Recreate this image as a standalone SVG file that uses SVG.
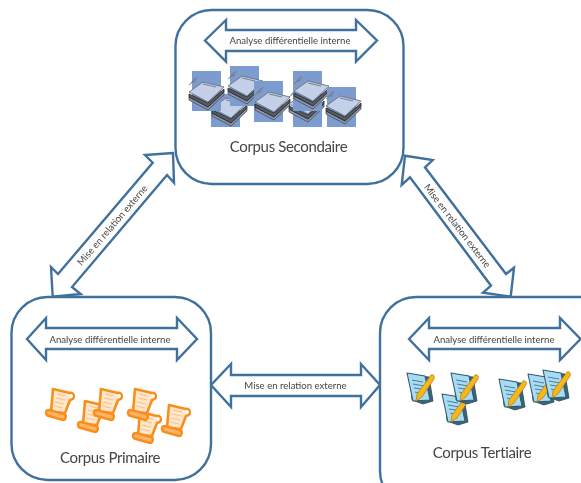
<svg xmlns="http://www.w3.org/2000/svg" xmlns:xlink="http://www.w3.org/1999/xlink" width="581" height="483" viewBox="0 0 581 483">
<style>
.box{fill:#fff;stroke:#41719c;stroke-width:2.4}
.arrow{fill:#fff;stroke:#41719c;stroke-width:2.4;stroke-linejoin:miter}
text{font-family:"Lato","Open Sans","Liberation Sans",sans-serif;fill:#444;text-anchor:middle}
.small{font-size:9.6px}
.big{font-size:15px;letter-spacing:-0.35px}
.sq{fill:#7b9bcf}
</style>
<defs>
<filter id="soft" x="-2%" y="-2%" width="104%" height="104%"><feGaussianBlur stdDeviation="0.45"/></filter>
<symbol id="stack" overflow="visible">
<g stroke-linejoin="round">
<path d="M-17-9-12-13M-15-11-11-16M-12-11-9-17" stroke="#777" stroke-width="0.9" fill="none"/>
<path d="M-17 3 2 13 18-2V1L2 16-17 6Z" fill="#8d96a6" stroke="#3d4048" stroke-width="0.7"/>
<path d="M-17 0 2 9 18-5V-2L2 13-17 3Z" fill="#565b66" stroke="#22252b" stroke-width="0.8"/>
<path d="M-17-2-3-12 18-7 2 8Z" fill="#c3d0e8" stroke="#6b7280" stroke-width="0.9"/>
<path d="M-3-10 10-7" stroke="#7a8190" stroke-width="1.1"/>
</g>
</symbol>
<symbol id="scroll" overflow="visible">
<path d="M-7-15 10-11 C14-12 16-5 10-4 L5 9 -9 8Z" fill="#ffe7cc" stroke="#f98e1d" stroke-width="2.6" stroke-linejoin="round"/>
<path d="M-3-10 6-8M-4-6 5-4M-5-2 4 0M-6 2 3 4" stroke="#fdbf80" stroke-width="1.2"/>
<path d="M-11 6 4 10C7 11 6 16 3 16L-11 12C-15 11-15 6-11 6Z" fill="#fdb469" stroke="#f98e1d" stroke-width="2.4"/>
<circle cx="11" cy="-8" r="1.800" fill="#fff"/>
</symbol>
<symbol id="note" overflow="visible">
<path d="M-10-13 9-11 13 13 3 16-8 12Z" fill="#3d6478" stroke="#2b4a5c" stroke-width="0.8" stroke-linejoin="round"/>
<path d="M-13-15 5-12 10 12-7 13Z" fill="#a9dcf2" stroke="#2f5a72" stroke-width="1.1" stroke-linejoin="round"/>
<path d="M-8-8 3-6M-7-4 4-2M-6 0 1 1M-5 4-1 5" stroke="#4a7d99" stroke-width="1"/>
<path d="M11-13C14-14 15-11 14-9L2 9-4 13-3 6Z" fill="#f7b71d" stroke="#a67a12" stroke-width="0.7" stroke-linejoin="round"/>
</symbol>
</defs>
<g filter="url(#soft)">
<g id="connectors">
<g id="external-left">
<path class="arrow" d="M173 153 145 155 152.700 162.700 58 274 51 267 52.700 296.700 80.700 294 72 287 167 175 174 182.700Z"/>
<text class="small" transform="translate(112.500 225.500) rotate(-49.500)" dy="3">Mise en relation externe</text>
</g>
<g id="external-right">
<path class="arrow" d="M405 155.700 432.700 160 425 167.300 506 274 514 267.700 510.700 296.700 483 292.700 491 285.700 410 177.300 401.700 185Z"/>
<text class="small" transform="translate(457 226) rotate(52.500)" dy="3">Mise en relation externe</text>
</g>
<g id="external-bottom">
<path class="arrow" d="M211 385 231 364V375H361V364L380 385 361 407V396H231V407Z"/>
<text class="small" x="295.500" y="388.500">Mise en relation externe</text>
</g>
</g>
<g id="corpus-secondaire">
<rect class="box" x="175.500" y="10" width="228" height="174" rx="36"/>
<path class="arrow" d="M205 40.500 226 20V30H356V20L377 40.500 356 61.500V51H226V61.500Z"/>
<text class="small" x="290" y="44">Analyse différentielle interne</text>
<rect class="sq" x="211" y="94" width="29" height="33"/>
<use xlink:href="#stack" href="#stack" x="229" y="110"/>
<rect class="sq" x="192" y="71" width="29" height="40"/>
<use xlink:href="#stack" href="#stack" x="206" y="94"/>
<rect class="sq" x="230" y="66" width="29" height="40"/>
<use xlink:href="#stack" href="#stack" x="245" y="88"/>
<rect class="sq" x="254" y="81" width="29" height="41"/>
<use xlink:href="#stack" href="#stack" x="272" y="104"/>
<rect class="sq" x="293" y="94" width="29" height="33"/>
<use xlink:href="#stack" href="#stack" x="306" y="106"/>
<rect class="sq" x="293" y="71" width="29" height="40"/>
<use xlink:href="#stack" href="#stack" x="311" y="93"/>
<rect class="sq" x="327" y="87" width="29" height="40"/>
<use xlink:href="#stack" href="#stack" x="343" y="108"/>
<text class="big" x="288.500" y="152">Corpus Secondaire</text>
</g>
<g id="corpus-primaire">
<rect class="box" x="11.500" y="297" width="199.500" height="183" rx="36"/>
<path class="arrow" d="M27 339 46 318V328H177V318L197 339 177 360V349H46V360Z"/>
<text class="small" x="110" y="342.500">Analyse différentielle interne</text>
<use xlink:href="#scroll" href="#scroll" x="60" y="404"/>
<use xlink:href="#scroll" href="#scroll" x="92" y="416"/>
<use xlink:href="#scroll" href="#scroll" x="108" y="404"/>
<use xlink:href="#scroll" href="#scroll" x="147" y="427"/>
<use xlink:href="#scroll" href="#scroll" x="142" y="404"/>
<use xlink:href="#scroll" href="#scroll" x="176" y="420"/>
<text class="big" x="110" y="463">Corpus Primaire</text>
</g>
<g id="corpus-tertiaire">
<rect class="box" x="380" y="297" width="240" height="210" rx="36"/>
<path class="arrow" d="M409 339 429 318V328H560V318L580.500 339 560 360V349H429V360Z"/>
<text class="small" x="494" y="342.500">Analyse différentielle interne</text>
<use xlink:href="#note" href="#note" x="420" y="388"/>
<use xlink:href="#note" href="#note" x="455" y="409"/>
<use xlink:href="#note" href="#note" x="464" y="388"/>
<use xlink:href="#note" href="#note" x="512" y="394"/>
<use xlink:href="#note" href="#note" x="541" y="389"/>
<use xlink:href="#note" href="#note" x="556" y="385"/>
<text class="big" x="482" y="458">Corpus Tertiaire</text>
</g>
</g>
</svg>
